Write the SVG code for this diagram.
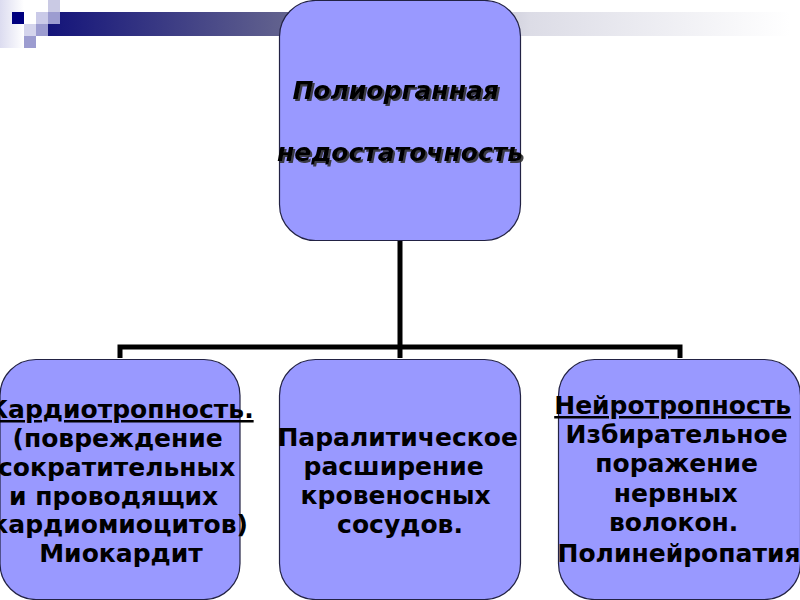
<svg xmlns="http://www.w3.org/2000/svg" width="800" height="600" viewBox="0 0 800 600">
<defs>
<linearGradient id="bar" x1="48" y1="0" x2="790" y2="0" gradientUnits="userSpaceOnUse">
<stop offset="0" stop-color="#14147a"/>
<stop offset="0.35" stop-color="#6a6a90"/>
<stop offset="0.65" stop-color="#dcdce6"/>
<stop offset="1" stop-color="#ffffff"/>
</linearGradient>
<linearGradient id="side" x1="0" y1="0" x2="24" y2="0" gradientUnits="userSpaceOnUse">
<stop offset="0" stop-color="#dcdcf0"/>
<stop offset="1" stop-color="#ffffff"/>
</linearGradient>
<filter id="shadow" x="-10%" y="-30%" width="120%" height="160%">
<feDropShadow dx="2" dy="2" stdDeviation="0.6" flood-color="#333" flood-opacity="0.9"/>
</filter>
<style>
.box{fill:#9999ff;stroke:#222244;stroke-width:1.2}
.t{font-family:"DejaVu Sans",Verdana,sans-serif;font-weight:bold;font-size:25px;text-anchor:middle;fill:#000}
.h{font-family:"DejaVu Sans",Verdana,sans-serif;font-weight:bold;font-style:italic;font-size:25px;text-anchor:middle;fill:#000}
.c{fill:none;stroke:#000;stroke-width:5}
</style>
</defs>
<rect width="800" height="600" fill="#fff"/>
<g id="decor">
<rect x="0" y="0" width="24" height="48" fill="url(#side)"/>
<rect x="48" y="12" width="752" height="24" fill="url(#bar)"/>
<rect x="12" y="12" width="12" height="12" fill="#00007f"/>
<rect x="24" y="24" width="12" height="12" fill="#d4d4ec"/>
<rect x="36" y="12" width="12" height="12" fill="#cacae8"/>
<rect x="36" y="24" width="12" height="12" fill="#9c9cd0"/>
<rect x="48" y="0" width="12" height="12" fill="#cacae4"/>
<rect x="48" y="12" width="12" height="12" fill="#9c9cd0"/>
<rect x="24" y="36" width="12" height="12" fill="#9c9cd0"/>
</g>
<g id="connectors">
<path class="c" d="M400 240 V358 M120 358 V347 H680 V358"/>
</g>
<g id="node-root">
<rect class="box" x="279.5" y="0.5" width="241" height="240" rx="36"/>
<text class="h" filter="url(#shadow)">
<tspan x="400" y="99">Полиорганная</tspan>
<tspan x="400" y="161">недостаточность</tspan>
</text>
</g>
<g id="node-cardio">
<rect class="box" x="0" y="359.5" width="240" height="240" rx="36"/>
<text class="t">
<tspan x="125" y="418" text-decoration="underline">Кардиотропность.</tspan>
<tspan x="122" y="447">(повреждение</tspan>
<tspan x="121" y="476">сократительных</tspan>
<tspan x="118" y="505">и проводящих</tspan>
<tspan x="124" y="533">кардиомиоцитов)</tspan>
<tspan x="121" y="562">Миокардит</tspan>
</text>
</g>
<g id="node-paral">
<rect class="box" x="279.5" y="359.5" width="241" height="240" rx="36"/>
<text class="t">
<tspan x="402" y="446">Паралитическое</tspan>
<tspan x="398" y="475">расширение</tspan>
<tspan x="400" y="504">кровеносных</tspan>
<tspan x="400" y="533">сосудов.</tspan>
</text>
</g>
<g id="node-neuro">
<rect class="box" x="558.5" y="359.5" width="242" height="240" rx="36"/>
<text class="t">
<tspan x="677" y="414" text-decoration="underline">Нейротропность</tspan>
<tspan x="681" y="443">Избирательное</tspan>
<tspan x="681" y="472">поражение</tspan>
<tspan x="680" y="502">нервных</tspan>
<tspan x="678" y="531">волокон.</tspan>
<tspan x="679" y="562">Полинейропатия</tspan>
</text>
</g>
</svg>
